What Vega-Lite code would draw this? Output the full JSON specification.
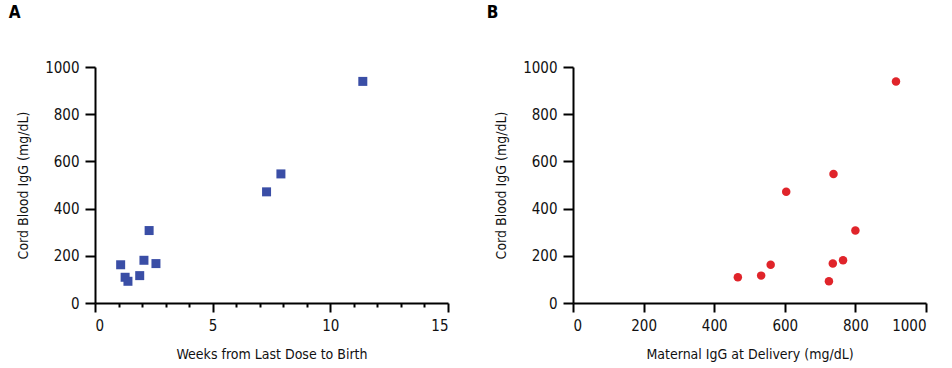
{
  "$schema": "https://vega.github.io/schema/vega-lite/v6.json",
  "background": "white",
  "padding": {"left": 8, "top": 4, "right": 5, "bottom": 5},
  "config": {
    "font": "DejaVu Sans Condensed, Liberation Sans",
    "view": {"stroke": null},
    "axis": {
      "grid": false,
      "domainColor": "black",
      "domainWidth": 2,
      "tickColor": "black",
      "tickWidth": 2,
      "labelFont": "DejaVu Sans Condensed, Liberation Sans",
      "titleFont": "DejaVu Sans Condensed, Liberation Sans",
      "labelFontSize": 15,
      "titleFontSize": 14,
      "titleFontWeight": "normal",
      "labelColor": "#111",
      "titleColor": "#111",
      "format": "d"
    },
    "title": {"font": "DejaVu Sans Condensed, Liberation Sans", "fontSize": 17, "fontWeight": "bold", "anchor": "start", "frame": "bounds", "offset": 38, "dx": -8}
  },
  "data": {
    "values": [
      {"weeks": 11.38, "maternal": 915, "cord": 939},
      {"weeks": 7.90, "maternal": 738, "cord": 547},
      {"weeks": 7.29, "maternal": 604, "cord": 471},
      {"weeks": 2.30, "maternal": 800, "cord": 307},
      {"weeks": 1.09, "maternal": 560, "cord": 162},
      {"weeks": 2.08, "maternal": 765, "cord": 181},
      {"weeks": 2.59, "maternal": 736, "cord": 167},
      {"weeks": 1.90, "maternal": 533, "cord": 116},
      {"weeks": 1.28, "maternal": 467, "cord": 109},
      {"weeks": 1.40, "maternal": 725, "cord": 92}
    ]
  },
  "spacing": 37,
  "hconcat": [
    {
      "title": "A",
      "width": 353,
      "height": 236,
      "mark": {"type": "square", "size": 81, "color": "#3a4ea6", "opacity": 1},
      "encoding": {
        "x": {
          "field": "weeks", "type": "quantitative",
          "scale": {"domain": [0, 15], "nice": false, "zero": true},
          "axis": {
            "title": "Weeks from Last Dose to Birth",
            "values": [0,1,2,3,4,5,6,7,8,9,10,11,12,13,14,15],
            "labelExpr": "datum.value % 5 === 0 ? datum.label : ''",
            "tickSize": {"condition": {"test": "datum.value % 5 === 0", "value": 9}, "value": 4},
            "labelPadding": 6, "titlePadding": 14
          }
        },
        "y": {
          "field": "cord", "type": "quantitative",
          "scale": {"domain": [0, 1000], "nice": false},
          "axis": {
            "title": "Cord Blood IgG (mg/dL)",
            "values": [0, 200, 400, 600, 800, 1000],
            "tickSize": 10, "labelPadding": 6, "titlePadding": 14
          }
        }
      }
    },
    {
      "title": "B",
      "width": 353,
      "height": 236,
      "mark": {"type": "circle", "size": 72, "color": "#e0242a", "opacity": 1},
      "encoding": {
        "x": {
          "field": "maternal", "type": "quantitative",
          "scale": {"domain": [0, 1000], "nice": false},
          "axis": {
            "title": "Maternal IgG at Delivery (mg/dL)",
            "values": [0, 200, 400, 600, 800, 1000],
            "tickSize": 9, "labelPadding": 6, "titlePadding": 14
          }
        },
        "y": {
          "field": "cord", "type": "quantitative",
          "scale": {"domain": [0, 1000], "nice": false},
          "axis": {
            "title": "Cord Blood IgG (mg/dL)",
            "values": [0, 200, 400, 600, 800, 1000],
            "tickSize": 10, "labelPadding": 6, "titlePadding": 14
          }
        }
      }
    }
  ]
}
